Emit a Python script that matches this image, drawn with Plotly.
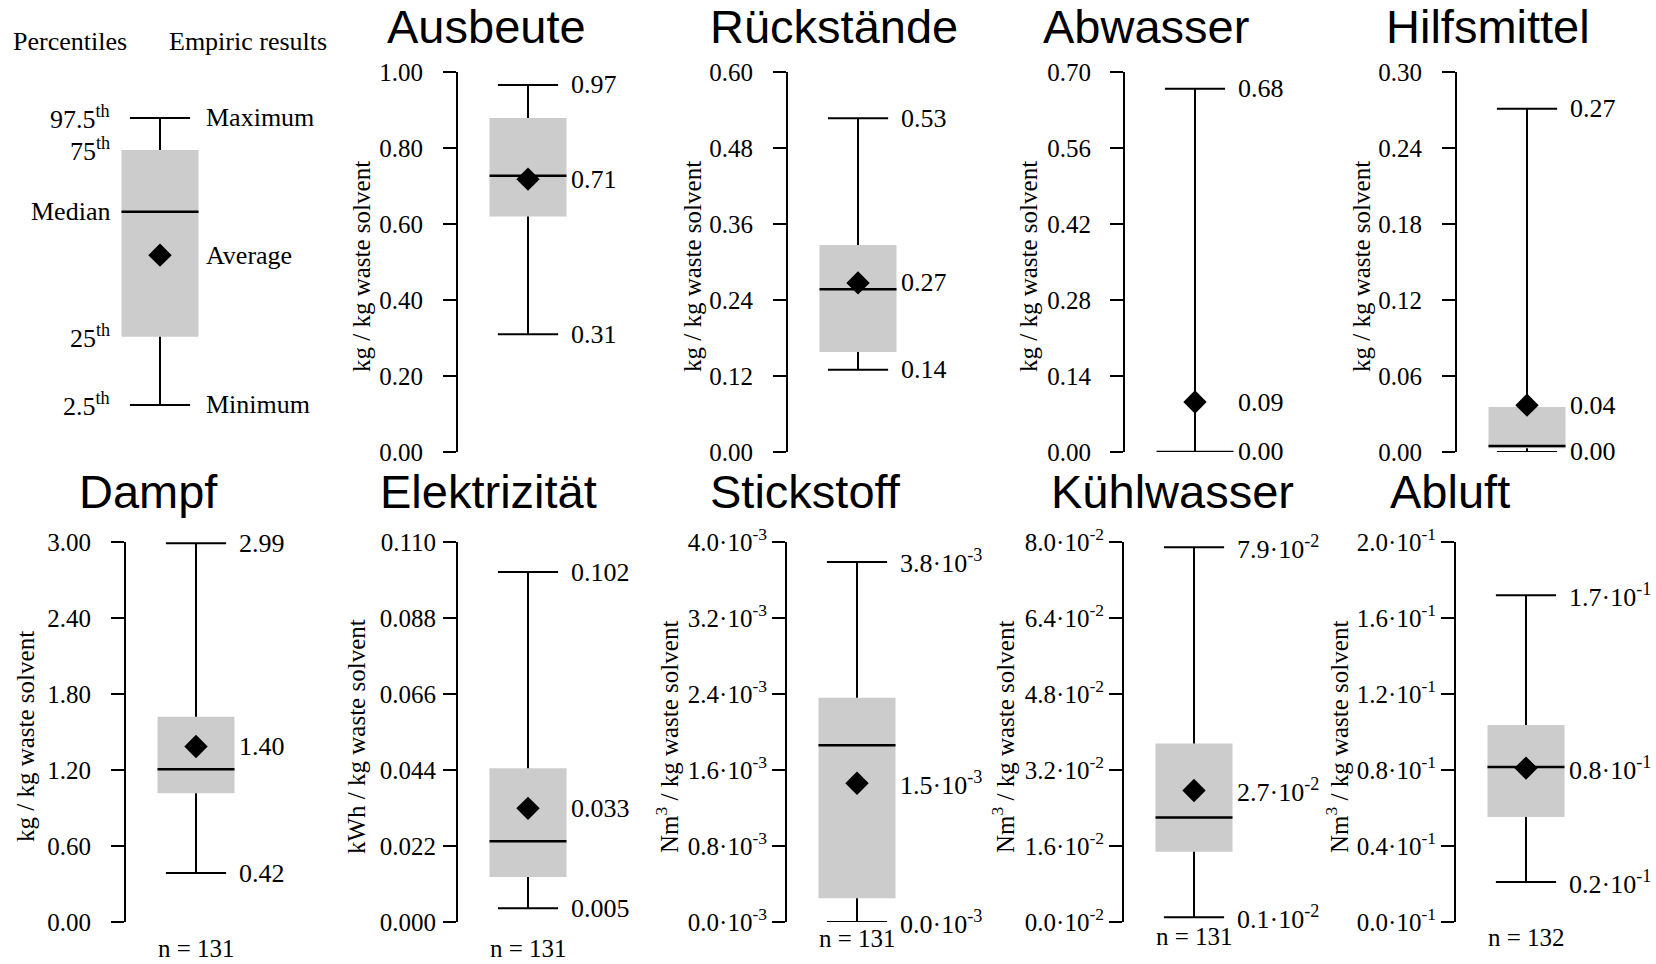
import plotly.graph_objects as go

W, H = 1656, 964

# ---------------- data ----------------
titles = ["Ausbeute", "Rückstände", "Abwasser", "Hilfsmittel",
          "Dampf", "Elektrizität", "Stickstoff", "Kühlwasser", "Abluft"]
units = ["kg / kg waste solvent"] * 5 + ["kWh / kg waste solvent"] + \
        ["Nm<sup>3</sup> / kg waste solvent"] * 3

minima  = [0.310, 0.130, 0.000, 0.000, 0.386, 0.0040, 0.00e-3, 0.0010, 0.0210]
q1s     = [0.620, 0.158, 0.000, 0.003, 1.016, 0.0130, 0.25e-3, 0.0148, 0.0553]
medians = [0.727, 0.257, 0.000, 0.0047, 1.205, 0.0234, 1.86e-3, 0.0220, 0.0816]
means   = [0.718, 0.267, 0.092, 0.037, 1.386, 0.0329, 1.46e-3, 0.0277, 0.0810]
q3s     = [0.879, 0.327, 0.000, 0.0355, 1.620, 0.0445, 2.36e-3, 0.0376, 0.1037]
maxima  = [0.966, 0.527, 0.669, 0.271, 2.990, 0.1013, 3.79e-3, 0.0789, 0.1720]

max_labels  = ["0.97", "0.53", "0.68", "0.27", "2.99", "0.102",
               "3.8·10<sup>-3</sup>", "7.9·10<sup>-2</sup>", "1.7·10<sup>-1</sup>"]
mean_labels = ["0.71", "0.27", "0.09", "0.04", "1.40", "0.033",
               "1.5·10<sup>-3</sup>", "2.7·10<sup>-2</sup>", "0.8·10<sup>-1</sup>"]
min_labels  = ["0.31", "0.14", "0.00", "0.00", "0.42", "0.005",
               "0.0·10<sup>-3</sup>", "0.1·10<sup>-2</sup>", "0.2·10<sup>-1</sup>"]
n_values = [None, None, None, None, 131, 131, 131, 131, 132]

axis_tops = [1.00, 0.60, 0.70, 0.30, 3.00, 0.110, 4.0e-3, 8.0e-2, 2.0e-1]
tick_labels = [
    ["0.00", "0.20", "0.40", "0.60", "0.80", "1.00"],
    ["0.00", "0.12", "0.24", "0.36", "0.48", "0.60"],
    ["0.00", "0.14", "0.28", "0.42", "0.56", "0.70"],
    ["0.00", "0.06", "0.12", "0.18", "0.24", "0.30"],
    ["0.00", "0.60", "1.20", "1.80", "2.40", "3.00"],
    ["0.000", "0.022", "0.044", "0.066", "0.088", "0.110"],
    ["0.0·10<sup>-3</sup>", "0.8·10<sup>-3</sup>", "1.6·10<sup>-3</sup>",
     "2.4·10<sup>-3</sup>", "3.2·10<sup>-3</sup>", "4.0·10<sup>-3</sup>"],
    ["0.0·10<sup>-2</sup>", "1.6·10<sup>-2</sup>", "3.2·10<sup>-2</sup>",
     "4.8·10<sup>-2</sup>", "6.4·10<sup>-2</sup>", "8.0·10<sup>-2</sup>"],
    ["0.0·10<sup>-1</sup>", "0.4·10<sup>-1</sup>", "0.8·10<sup>-1</sup>",
     "1.2·10<sup>-1</sup>", "1.6·10<sup>-1</sup>", "2.0·10<sup>-1</sup>"],
]

# schematic legend box (relative scale 0..1)
legend_stats = {"minimum": 0.124, "q1": 0.303, "median": 0.632,
                "mean": 0.518, "q3": 0.795, "maximum": 0.879}
legend_left = [("97.5<sup>th</sup>", "maximum"), ("75<sup>th</sup>", "q3"),
               ("Median", "median"), ("25<sup>th</sup>", "q1"),
               ("2.5<sup>th</sup>", "minimum")]
legend_right = [("Maximum", "maximum"), ("Average", "mean"), ("Minimum", "minimum")]

# ---------------- layout / style ----------------
axis_px = [458, 788, 1125, 1457, 126, 458, 787, 1124, 1456]
row_top = [72] * 4 + [542] * 5
ROW_H = 380
PANEL_W = 140
title_x = [487, 834, 1146, 1488, 148, 489, 805, 1172, 1450]
title_y = [26] * 4 + [492] * 5
ytitle_off = [-97, -96, -97, -96, -101, -102, -120, -121, -119]
label_standoff = [15, 15, 14, 15, 15, 2, 0, 0, 0]
n_y = [None] * 4 + [948, 948, 938, 936, 937]

SERIF = "Liberation Serif, Times New Roman, serif"
SANS = "Liberation Sans, Arial, sans-serif"
BOX_HALF = 0.55
CAP_HALF = 0.43
GREY = "#cccccc"

fig = go.Figure()
annotations = []


def ref(k):
    return ("x", "y") if k == 1 else (f"x{k}", f"y{k}")


def add_box(k, mn, q1, med, mean, q3, mx):
    xr, yr = ref(k)
    fig.add_trace(go.Bar(x=[1], y=[q3 - q1], base=[q1], width=[2 * BOX_HALF],
                         marker=dict(color=GREY, line=dict(width=0)),
                         xaxis=xr, yaxis=yr, showlegend=False, hoverinfo="skip"))
    fig.add_trace(go.Scatter(x=[1, 1, None, 1, 1], y=[mn, q1, None, q3, mx],
                             mode="lines", line=dict(color="black", width=2),
                             xaxis=xr, yaxis=yr, showlegend=False, cliponaxis=False,
                             hoverinfo="skip"))
    fig.add_trace(go.Scatter(x=[1 - CAP_HALF, 1 + CAP_HALF, None, 1 - CAP_HALF, 1 + CAP_HALF],
                             y=[mn, mn, None, mx, mx],
                             mode="lines", line=dict(color="black", width=2),
                             xaxis=xr, yaxis=yr, showlegend=False, cliponaxis=False,
                             hoverinfo="skip"))
    fig.add_trace(go.Scatter(x=[1 - BOX_HALF, 1 + BOX_HALF], y=[med, med],
                             mode="lines", line=dict(color="black", width=2.5),
                             xaxis=xr, yaxis=yr, showlegend=False, cliponaxis=False,
                             hoverinfo="skip"))
    fig.add_trace(go.Scatter(x=[1], y=[mean], mode="markers",
                             marker=dict(symbol="diamond", size=18, color="black"),
                             xaxis=xr, yaxis=yr, showlegend=False, cliponaxis=False,
                             hoverinfo="skip"))


layout_axes = {}
for i in range(9):
    k = i + 1
    xr, yr = ref(k)
    x0 = axis_px[i] / W
    x1 = (axis_px[i] + PANEL_W) / W
    y1 = 1 - row_top[i] / H
    y0 = 1 - (row_top[i] + ROW_H) / H
    xname = "xaxis" if k == 1 else f"xaxis{k}"
    yname = "yaxis" if k == 1 else f"yaxis{k}"
    layout_axes[xname] = dict(domain=[x0, x1], range=[0, 2], visible=False,
                              anchor=yr, fixedrange=True, automargin=False)
    top = axis_tops[i]
    layout_axes[yname] = dict(domain=[y0, y1], range=[0, top], anchor=xr,
                              tickvals=[top * j / 5 for j in range(6)],
                              ticktext=tick_labels[i], ticks="outside", ticklen=13,
                              tickwidth=2, tickcolor="black", showline=True,
                              linewidth=2, linecolor="black", showgrid=False,
                              zeroline=False, ticklabelstandoff=label_standoff[i],
                              tickfont=dict(family=SERIF, size=25, color="black"),
                              fixedrange=True, automargin=False)
    add_box(k, minima[i], q1s[i], medians[i], means[i], q3s[i], maxima[i])

    # value labels
    for txt, val in ((max_labels[i], maxima[i]), (mean_labels[i], means[i]),
                     (min_labels[i], minima[i])):
        annotations.append(dict(x=1 + CAP_HALF, y=val, xref=xr, yref=yr, text=txt,
                                showarrow=False, xanchor="left", yanchor="middle",
                                xshift=11, font=dict(family=SERIF, size=26, color="black")))
    # panel title
    annotations.append(dict(x=title_x[i] / W, y=1 - title_y[i] / H, xref="paper", yref="paper",
                            text=titles[i], showarrow=False, xanchor="center",
                            yanchor="middle", font=dict(family=SANS, size=47, color="black")))
    # y axis title
    annotations.append(dict(x=(axis_px[i] + ytitle_off[i]) / W,
                            y=1 - (row_top[i] + ROW_H / 2 + 5) / H,
                            xref="paper", yref="paper", text=units[i], textangle=-90,
                            showarrow=False, xanchor="center", yanchor="middle",
                            font=dict(family=SERIF, size=25, color="black")))
    if n_values[i] is not None:
        annotations.append(dict(x=1, y=1 - n_y[i] / H, xref=xr, yref="paper",
                                text=f"n = {n_values[i]}", showarrow=False,
                                xanchor="center", yanchor="middle",
                                font=dict(family=SERIF, size=25, color="black")))

# ---------------- legend panel ----------------
k = 10
xr, yr = ref(k)
layout_axes["xaxis10"] = dict(domain=[90 / W, 230 / W], range=[0, 2], visible=False,
                              anchor=yr, fixedrange=True, automargin=False)
layout_axes["yaxis10"] = dict(domain=[1 - 452 / H, 1 - 72 / H], range=[0, 1], visible=False,
                              anchor=xr, fixedrange=True, automargin=False)
ls = legend_stats
add_box(k, ls["minimum"], ls["q1"], ls["median"], ls["mean"], ls["q3"], ls["maximum"])

LEG_FONT = dict(family=SERIF, size=26, color="black")
for txt, key in legend_left:
    annotations.append(dict(x=112 / W, y=ls[key], xref="paper", yref=yr, text=txt,
                            showarrow=False, xanchor="right", yanchor="middle", font=LEG_FONT))
for txt, key in legend_right:
    annotations.append(dict(x=204 / W, y=ls[key], xref="paper", yref=yr, text=txt,
                            showarrow=False, xanchor="left", yanchor="middle", font=LEG_FONT))
annotations.append(dict(x=70 / W, y=1 - 42 / H, xref="paper", yref="paper", text="Percentiles",
                        showarrow=False, xanchor="center", yanchor="middle", font=LEG_FONT))
annotations.append(dict(x=248 / W, y=1 - 42 / H, xref="paper", yref="paper",
                        text="Empiric results", showarrow=False, xanchor="center",
                        yanchor="middle", font=LEG_FONT))

fig.update_layout(width=W, height=H, margin=dict(l=0, r=0, t=0, b=0, autoexpand=False),
                  paper_bgcolor="white", plot_bgcolor="white", showlegend=False,
                  hovermode=False, annotations=annotations, **layout_axes)

fig.write_html("out.html", config={"displayModeBar": False},
               post_script="document.body.style.margin='0';")
